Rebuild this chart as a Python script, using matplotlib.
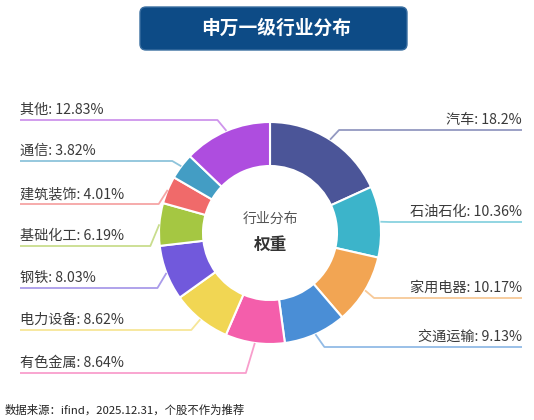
import numpy as np
import matplotlib
matplotlib.use("Agg")
import matplotlib.pyplot as plt
from matplotlib.patches import FancyBboxPatch

plt.rcParams['font.family'] = ['Noto Sans CJK SC', 'DejaVu Sans']

# data
industries = ['汽车', '石油石化', '家用电器', '交通运输', '有色金属', '电力设备',
              '钢铁', '基础化工', '建筑装饰', '通信', '其他']
weights = [18.2, 10.36, 10.17, 9.13, 8.64, 8.62, 8.03, 6.19, 4.01, 3.82, 12.83]
weight_text = ['18.2%', '10.36%', '10.17%', '9.13%', '8.64%', '8.62%',
               '8.03%', '6.19%', '4.01%', '3.82%', '12.83%']
colors = ['#4b5598', '#3cb4ca', '#f2a553', '#4a8ed6', '#f45eab', '#f1d653',
          '#7159dc', '#a5c742', '#f06a6a', '#439dc4', '#ae4ddf']

title = '申万一级行业分布'
footer = '数据来源：ifind，2025.12.31，个股不作为推荐'

# layout (pixel coords, y down)
W, H = 534, 420
cx, cy = 270, 233
r_out, ring = 111, 44
label_y = [130, 222, 298, 347, 373, 330, 288, 246, 204, 161, 120]

fig = plt.figure(figsize=(W / 100, H / 100), dpi=100)
ax = fig.add_axes([0, 0, 1, 1])

# y axis is inverted, so start at -90 and go "counterclock" in data space
wedges, _ = ax.pie(weights, colors=colors, startangle=-90, counterclock=True,
                   center=(cx, cy), radius=r_out,
                   wedgeprops=dict(width=ring, edgecolor='white', linewidth=1.5))
ax.set_xlim(0, W)
ax.set_ylim(H, 0)
ax.set_aspect('equal')
ax.axis('off')

# labels with leader lines
for w, name, txt, ly, col in zip(wedges, industries, weight_text, label_y, colors):
    ang = np.deg2rad((w.theta1 + w.theta2) / 2)
    px = cx + r_out * np.cos(ang)
    py = cy + r_out * np.sin(ang)
    side = 1 if np.cos(ang) >= 0 else -1
    ex = px + side * 9
    if side > 0:
        xs = [px, ex, 522]
        ax.text(522, ly - 3, f'{name}: {txt}', ha='right', va='bottom',
                fontsize=10.2, color='#3a3a3a')
    else:
        xs = [px, ex, 20]
        ax.text(20, ly - 3, f'{name}: {txt}', ha='left', va='bottom',
                fontsize=10.2, color='#3a3a3a')
    ax.plot(xs, [py, ly, ly], color=col, alpha=0.6, lw=1.3,
            solid_capstyle='butt')

# center text
ax.text(cx, 219, '行业分布', ha='center', va='center', fontsize=10, color='#555555')
ax.text(cx, 245, '权重', ha='center', va='center', fontsize=12,
        fontweight='bold', color='#333333')

# title box
box = FancyBboxPatch((140, 7), 267, 43, boxstyle='round,pad=0,rounding_size=6',
                     facecolor='#0d4b86', edgecolor='#3a6ea0', lw=1)
ax.add_patch(box)
ax.text(276, 28.5, title, ha='center', va='center', fontsize=13.5,
        fontweight='bold', color='white')

ax.text(5, 410, footer, ha='left', va='center', fontsize=8.2, color='#222222')

fig.savefig('out.png', dpi=100)
